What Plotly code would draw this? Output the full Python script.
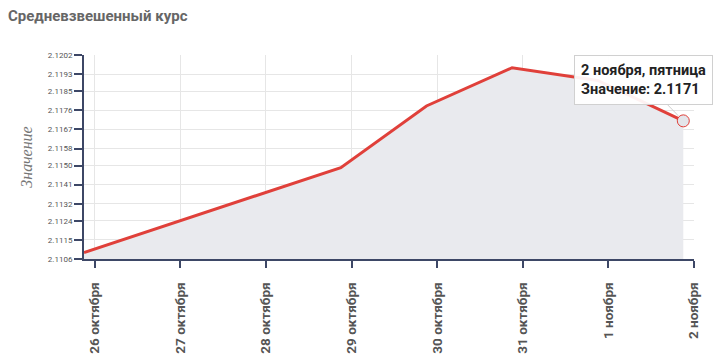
import pandas as pd
import plotly.graph_objects as go

# Data
dates = ["2018-10-26", "2018-10-29", "2018-10-30", "2018-10-31", "2018-11-01", "2018-11-02"]
values = [2.1109, 2.1149, 2.1178, 2.1196, 2.1190, 2.1171]

tick_days = ["2018-10-26", "2018-10-27", "2018-10-28", "2018-10-29",
             "2018-10-30", "2018-10-31", "2018-11-01", "2018-11-02"]
tick_labels = ["26 октября", "27 октября", "28 октября", "29 октября",
               "30 октября", "31 октября", "1 ноября", "2 ноября"]

y_ticks = [2.1106, 2.1115, 2.1124, 2.1132, 2.1141, 2.1150,
           2.1158, 2.1167, 2.1176, 2.1185, 2.1193, 2.1202]
y_labels = ["2.1106", "2.1115", "2.1124", "2.1132", "2.1141", "2.1150",
            "2.1158", "2.1167", "2.1176", "2.1185", "2.1193", "2.1202"]

title_text = "Средневзвешенный курс"
y_title = "Значение"
tooltip_text = "2 ноября, пятница<br>Значение: 2.1171"

x = pd.to_datetime(dates)
tick_vals = pd.to_datetime(tick_days) + pd.Timedelta(hours=3)

RED = "#e0403a"
AXIS = "#3d4766"
GRID = "#e6e6e6"

fig = go.Figure()
fig.add_trace(go.Scatter(
    x=x, y=values, mode="lines",
    line=dict(color=RED, width=3),
    fill="tozeroy", fillcolor="#e9eaee",
    hoverinfo="skip", showlegend=False,
))
fig.add_trace(go.Scatter(
    x=[x[-1]], y=[values[-1]], mode="markers",
    marker=dict(size=12, color="#e4e5ea", line=dict(color=RED, width=1)),
    hoverinfo="skip", showlegend=False,
))

fig.add_annotation(
    x=x[-1], y=values[-1], xref="x", yref="y",
    text=tooltip_text, showarrow=True, ax=-40, ay=-41,
    arrowcolor="#cfcfcf", arrowwidth=1, arrowhead=0, standoff=7,
    align="left", bgcolor="rgba(255,255,255,0.93)", bordercolor="#d0d0d0",
    borderwidth=1, borderpad=6,
    font=dict(family="Roboto", size=14.5, color="#222222", weight="bold"),
)

fig.update_layout(
    width=717, height=360,
    margin=dict(l=84, r=23, t=55, b=101),
    paper_bgcolor="white", plot_bgcolor="white",
    title=dict(text=title_text, x=8/717, xanchor="left", xref="container",
               y=1 - 16/360, yanchor="middle",
               font=dict(family="Roboto", size=15, color="#666666", weight="bold")),
    xaxis=dict(
        type="date", automargin=False,
        range=[x[0], tick_vals[-1]],
        tickmode="array", tickvals=tick_vals, ticktext=tick_labels,
        tickangle=-90, ticks="outside", ticklen=7, tickcolor=AXIS, tickwidth=2,
        showline=True, linecolor=AXIS, linewidth=2,
        showgrid=True, gridcolor=GRID, gridwidth=1, zeroline=False,
        tickfont=dict(family="Roboto", size=13.5, color="#555555", weight="bold"),
        ticklabelstandoff=9,
    ),
    yaxis=dict(
        range=[y_ticks[0], y_ticks[-1]], automargin=False,
        tickmode="array", tickvals=y_ticks, ticktext=y_labels,
        ticks="outside", ticklen=8, tickcolor=AXIS, tickwidth=2,
        showline=True, linecolor=AXIS, linewidth=2,
        showgrid=True, gridcolor=GRID, gridwidth=1, zeroline=False,
        tickfont=dict(family="Roboto", size=8, color="#555555"),
        title=dict(text=y_title, standoff=11,
                   font=dict(family="Liberation Serif", size=16, color="#777777", style="italic")),
    ),
)

fig.write_html("out.html")
